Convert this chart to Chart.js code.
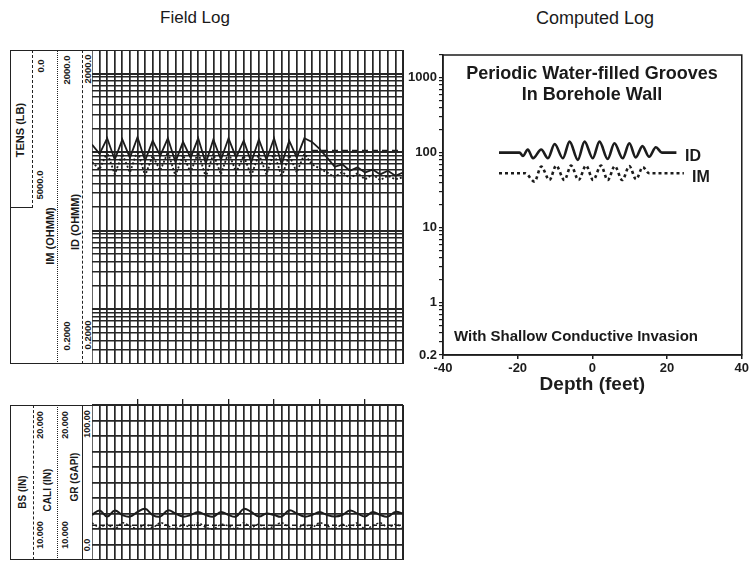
<!DOCTYPE html>
<html>
<head>
  <meta charset="UTF-8">
  <script src="https://cdn.jsdelivr.net/npm/chart.js"></script>
  <title>Field Log / Computed Log</title>
  <style>
    body { margin: 0; background: #fff; font-family: "Liberation Sans", Arial, sans-serif; color: #1a1a1a; }
    #page { position: relative; width: 751px; height: 562px; overflow: hidden; }
    canvas, .box, .vl, .hl, .t, .r { position: absolute; }
    .box { border: 1.5px solid #222; box-sizing: border-box; }
    .vl { width: 0; }
    .hl { height: 0; }
    .t { transform: translate(-50%, -50%); white-space: nowrap; }
    .r { transform: translate(-50%, -50%) rotate(-90deg); white-space: nowrap; font-weight: bold; }
    .b { font-weight: bold; }
  </style>
</head>
<body>
<div id="page">
  <div class="t" style="left:195px;top:18px;font-size:17px">Field Log</div>
  <div class="t" style="left:595px;top:18px;font-size:18px">Computed Log</div>

  <!-- upper track header -->
  <div class="box" style="left:10px;top:50px;width:394px;height:314px"></div>
  <div class="vl" style="left:32px;top:50px;height:158px;border-left:1.5px dashed #222"></div>
  <div class="hl" style="left:10px;top:207px;width:23px;border-top:1.5px solid #222"></div>
  <div class="vl" style="left:57px;top:50px;height:314px;border-left:1.5px dotted #222"></div>
  <div class="vl" style="left:82px;top:50px;height:314px;border-left:1.5px dashed #222"></div>
  <div class="r" style="left:20px;top:130px;font-size:11px">TENS (LB)</div>
  <div class="r" style="left:40px;top:66px;font-size:9.5px">0.0</div>
  <div class="r" style="left:39px;top:185px;font-size:9.5px">5000.0</div>
  <div class="r" style="left:50px;top:236px;font-size:11px">IM (OHMM)</div>
  <div class="r" style="left:66px;top:70px;font-size:9.5px">2000.0</div>
  <div class="r" style="left:66px;top:336px;font-size:9.5px">0.2000</div>
  <div class="r" style="left:75px;top:222px;font-size:11px">ID (OHMM)</div>
  <div class="r" style="left:87px;top:69px;font-size:9.5px">2000.0</div>
  <div class="r" style="left:87px;top:335px;font-size:9.5px">0.2000</div>
  <canvas id="topLog" width="311" height="314" style="left:92px;top:50px"></canvas>

  <!-- lower track header -->
  <div class="box" style="left:10px;top:405px;width:394px;height:155px"></div>
  <div class="vl" style="left:33px;top:405px;height:155px;border-left:1.5px dashed #222"></div>
  <div class="vl" style="left:57px;top:405px;height:155px;border-left:1.5px dotted #222"></div>
  <div class="vl" style="left:82px;top:405px;height:155px;border-left:1.5px solid #222"></div>
  <div class="r" style="left:22px;top:492px;font-size:10px">BS (IN)</div>
  <div class="r" style="left:40px;top:425px;font-size:9px">20.000</div>
  <div class="r" style="left:40px;top:535px;font-size:9px">10.000</div>
  <div class="r" style="left:47px;top:490px;font-size:10px">CALI (IN)</div>
  <div class="r" style="left:65px;top:425px;font-size:9px">20.000</div>
  <div class="r" style="left:65px;top:535px;font-size:9px">10.000</div>
  <div class="r" style="left:74px;top:477px;font-size:10px">GR (GAPI)</div>
  <div class="r" style="left:87px;top:424px;font-size:9px">100.00</div>
  <div class="r" style="left:87px;top:545px;font-size:9px">0.0</div>
  <canvas id="bottomLog" width="311" height="165" style="left:92px;top:395px"></canvas>

  <!-- computed log -->
  <canvas id="computed" width="351" height="355" style="left:400px;top:45px"></canvas>
  <div class="t b" style="left:592px;top:73px;font-size:18px">Periodic Water-filled Grooves</div>
  <div class="t b" style="left:592px;top:94px;font-size:18px">In Borehole Wall</div>
  <div class="b" style="position:absolute;left:685px;top:147px;font-size:16px">ID</div>
  <div class="b" style="position:absolute;left:692px;top:168px;font-size:16px">IM</div>
  <div class="t b" style="left:576px;top:335px;font-size:15px">With Shallow Conductive Invasion</div>
</div>

<script>
  // ---- field log, upper track (depth index across, resistivity up) ----
  const fieldDepth = [0, 1, 2, 3, 4, 5, 6, 7, 8, 9, 10, 11, 12, 13, 14, 15, 16, 17, 18, 19, 20,
    21, 22, 23, 24, 25, 26, 27, 28, 29, 30, 31, 32, 33, 34, 35, 36, 37, 38, 39, 40, 41];
  const fieldID = [125, 95, 150, 80, 145, 85, 155, 78, 140, 90, 150, 75, 135, 85, 150, 72, 145, 80, 150, 85, 140,
    75, 145, 80, 150, 70, 140, 85, 150, 135, 110, 85, 65, 70, 58, 64, 55, 60, 52, 58, 50, 55];
  const fieldIM = [75, 60, 100, 52, 95, 55, 105, 50, 90, 58, 100, 50, 92, 55, 100, 48, 95, 52, 100, 55, 90,
    50, 95, 52, 100, 48, 92, 55, 95, 70, 62, 55, 48, 56, 46, 54, 45, 52, 44, 50, 45, 48];
  const tensDepth = [29, 41];
  const tensLB = [3200, 3200];

  // ---- field log, lower track ----
  const fieldGR = [29, 32, 28, 32, 29, 28, 31, 33, 29, 28, 32, 30, 28, 29, 31, 29, 28, 31, 29, 28, 33,
    31, 28, 30, 29, 28, 32, 30, 28, 29, 31, 29, 28, 29, 32, 30, 28, 31, 29, 28, 31, 30];
  const fieldCALI = [12.4, 12.1, 12.3, 12.0, 12.4, 12.2, 12.0, 12.3, 12.1, 12.4, 12.2, 12.0, 12.3, 12.1, 12.4, 12.1,
    12.0, 12.3, 12.2, 12.0, 12.4, 12.1, 12.3, 12.0, 12.2, 12.4, 12.1, 12.0, 12.3, 12.1, 12.4, 12.2,
    12.0, 12.3, 12.1, 12.4, 12.0, 12.2, 12.4, 12.1, 12.3, 12.1];
  const bsDepth = [0, 41];
  const bsIN = [12.25, 12.25];
  const depthTicks = [6, 12, 18, 24, 30, 36];
  const grGrid = [0, 10, 20, 30, 40, 50, 60, 70, 80, 90, 100];

  // ---- computed log ----
  const idDepth = [-25, -19.5, -18.6, -17.3, -15.9, -13.7, -11.9, -10.1, -7.9, -6.1, -3.9, -2.1, 0.1,
    1.9, 4.1, 5.9, 8.1, 9.9, 11.6, 13.4, 15.2, 17.0, 18.6, 22.5];
  const idRes = [100, 100, 90, 110, 84, 110, 84, 130, 84, 140, 80, 140, 84,
    140, 82, 133, 84, 133, 86, 122, 88, 118, 100, 100];
  const imDepth = [-25, -18, -15.5, -13.7, -11.5, -9.7, -7.5, -5.7, -3.7, -1.7, 0.2,
    2.3, 4.1, 6.0, 8.0, 9.9, 11.7, 13.5, 15.2, 24.5];
  const imRes = [53, 53, 41, 65, 43, 67, 43, 67, 43, 67, 43,
    67, 43, 66, 43, 66, 44, 64, 53, 53];
  const depthAxisTicks = [-40, -20, 0, 20, 40];
  const resLabels = [0.2, 1, 10, 100, 1000];

  // log paper lines 0.2 .. 2000
  const logGrid = [];
  [0.1, 1, 10, 100, 1000].forEach(d => {
    for (let m = 1; m <= 9; m++) {
      const v = +(d * m).toPrecision(3);
      if (v >= 0.2 && v <= 2000) logGrid.push(v);
    }
  });
  const isDecade = v => [1, 10, 100, 1000].includes(v);

  const ink = '#1c1c1c';
  const gridInk = '#262626';
  const pts = (xs, ys) => xs.map((x, i) => ({ x: x, y: ys[i] }));
  const noSize = { ticks: { display: false }, border: { display: false } };

  const framePlugin = {
    id: 'frame',
    afterDraw(chart) {
      const a = chart.chartArea, ctx = chart.ctx;
      ctx.save();
      ctx.strokeStyle = ink;
      ctx.lineWidth = 1.5;
      ctx.strokeRect(a.left, a.top, a.right - a.left, a.bottom - a.top);
      ctx.restore();
    }
  };

  Chart.defaults.font.family = '"Liberation Sans", Arial, sans-serif';

  // upper track
  new Chart(document.getElementById('topLog'), {
    type: 'line',
    data: {
      datasets: [{
        label: 'ID', data: pts(fieldDepth, fieldID), borderColor: ink, borderWidth: 1.8,
        pointRadius: 0, tension: 0, yAxisID: 'y'
      }, {
        label: 'IM', data: pts(fieldDepth, fieldIM), borderColor: ink, borderWidth: 1.8,
        borderDash: [2, 2], pointRadius: 0, tension: 0, yAxisID: 'y'
      }, {
        label: 'TENS', data: pts(tensDepth, tensLB), borderColor: ink, borderWidth: 1.6,
        borderDash: [6, 4], pointRadius: 0, yAxisID: 'yT'
      }]
    },
    options: {
      responsive: false, animation: false, devicePixelRatio: 1,
      layout: { padding: 0 },
      plugins: { legend: { display: false }, tooltip: { enabled: false } },
      scales: {
        x: {
          type: 'linear', min: 0, max: 41, ...noSize,
          afterBuildTicks: s => { s.ticks = fieldDepth.map(v => ({ value: v })); },
          afterFit: s => { s.height = 0; },
          grid: { drawTicks: false, color: gridInk, lineWidth: 1.7 }
        },
        y: {
          type: 'logarithmic', min: 0.2, max: 2000, ...noSize,
          afterBuildTicks: s => { s.ticks = logGrid.map(v => ({ value: v })); },
          afterFit: s => { s.width = 0; },
          grid: { drawTicks: false, color: gridInk, lineWidth: c => isDecade(c.tick.value) ? 2 : 1.6 }
        },
        yT: { type: 'linear', min: 0, max: 10000, reverse: true, display: false }
      }
    }
  });

  // lower track
  new Chart(document.getElementById('bottomLog'), {
    type: 'line',
    data: {
      datasets: [{
        label: 'GR', data: pts(fieldDepth, fieldGR), borderColor: ink, borderWidth: 2,
        pointRadius: 0, tension: 0.4, yAxisID: 'y'
      }, {
        label: 'CALI', data: pts(fieldDepth, fieldCALI), borderColor: ink, borderWidth: 1.5,
        borderDash: [2, 2], pointRadius: 0, tension: 0.3, yAxisID: 'yC'
      }, {
        label: 'BS', data: pts(bsDepth, bsIN), borderColor: ink, borderWidth: 1.5,
        borderDash: [5, 3], pointRadius: 0, yAxisID: 'yC'
      }]
    },
    options: {
      responsive: false, animation: false, devicePixelRatio: 1,
      layout: { padding: 0 },
      plugins: { legend: { display: false }, tooltip: { enabled: false } },
      scales: {
        xTop: {
          type: 'linear', position: 'top', min: 0, max: 41, ...noSize,
          afterBuildTicks: s => { s.ticks = depthTicks.map(v => ({ value: v })); },
          afterFit: s => { s.height = 10; },
          grid: { drawOnChartArea: false, tickLength: 6, color: ink, lineWidth: 1.3 }
        },
        x: {
          type: 'linear', min: 0, max: 41, ...noSize,
          afterBuildTicks: s => { s.ticks = fieldDepth.map(v => ({ value: v })); },
          afterFit: s => { s.height = 0; },
          grid: { drawTicks: false, color: gridInk, lineWidth: 1.7 }
        },
        y: {
          type: 'linear', min: 0, max: 100, ...noSize,
          afterBuildTicks: s => { s.ticks = grGrid.map(v => ({ value: v })); },
          afterFit: s => { s.width = 0; },
          grid: { drawTicks: false, color: gridInk, lineWidth: 1.8 }
        },
        yC: { type: 'linear', min: 10, max: 20, display: false }
      }
    }
  });

  // computed log
  const boldTick = { size: 13, weight: 'bold' };
  new Chart(document.getElementById('computed'), {
    type: 'line',
    data: {
      datasets: [{
        label: 'ID', data: pts(idDepth, idRes), borderColor: ink, borderWidth: 2.6,
        pointRadius: 0, cubicInterpolationMode: 'monotone'
      }, {
        label: 'IM', data: pts(imDepth, imRes), borderColor: ink, borderWidth: 2.6,
        borderDash: [3, 3], pointRadius: 0, cubicInterpolationMode: 'monotone'
      }]
    },
    options: {
      responsive: false, animation: false, devicePixelRatio: 1,
      layout: { padding: { top: 10, right: 9, left: 0, bottom: 0 } },
      plugins: { legend: { display: false }, tooltip: { enabled: false } },
      scales: {
        x: {
          type: 'linear', min: -40, max: 40,
          afterBuildTicks: s => { s.ticks = depthAxisTicks.map(v => ({ value: v })); },
          afterFit: s => { s.height = 45; },
          ticks: { font: boldTick, color: ink, padding: 2, maxRotation: 0 },
          grid: { drawOnChartArea: false, tickLength: 4, color: ink, lineWidth: 1.5 },
          border: { color: ink, width: 1.5 },
          title: { display: true, text: 'Depth (feet)', color: ink,
                   font: { size: 19, weight: 'bold' }, padding: { top: 0, bottom: 4 } }
        },
        y: {
          type: 'logarithmic', min: 0.2, max: 2000,
          afterBuildTicks: s => { s.ticks = logGrid.map(v => ({ value: v })); },
          afterFit: s => { s.width = 43; },
          ticks: { autoSkip: false, font: boldTick, color: ink, padding: 2,
                   callback: v => resLabels.includes(v) ? String(v) : '' },
          grid: { drawOnChartArea: false, tickLength: 4, color: ink, lineWidth: 1.2 },
          border: { color: ink, width: 1.5 }
        }
      }
    },
    plugins: [framePlugin]
  });
</script>
</body>
</html>
